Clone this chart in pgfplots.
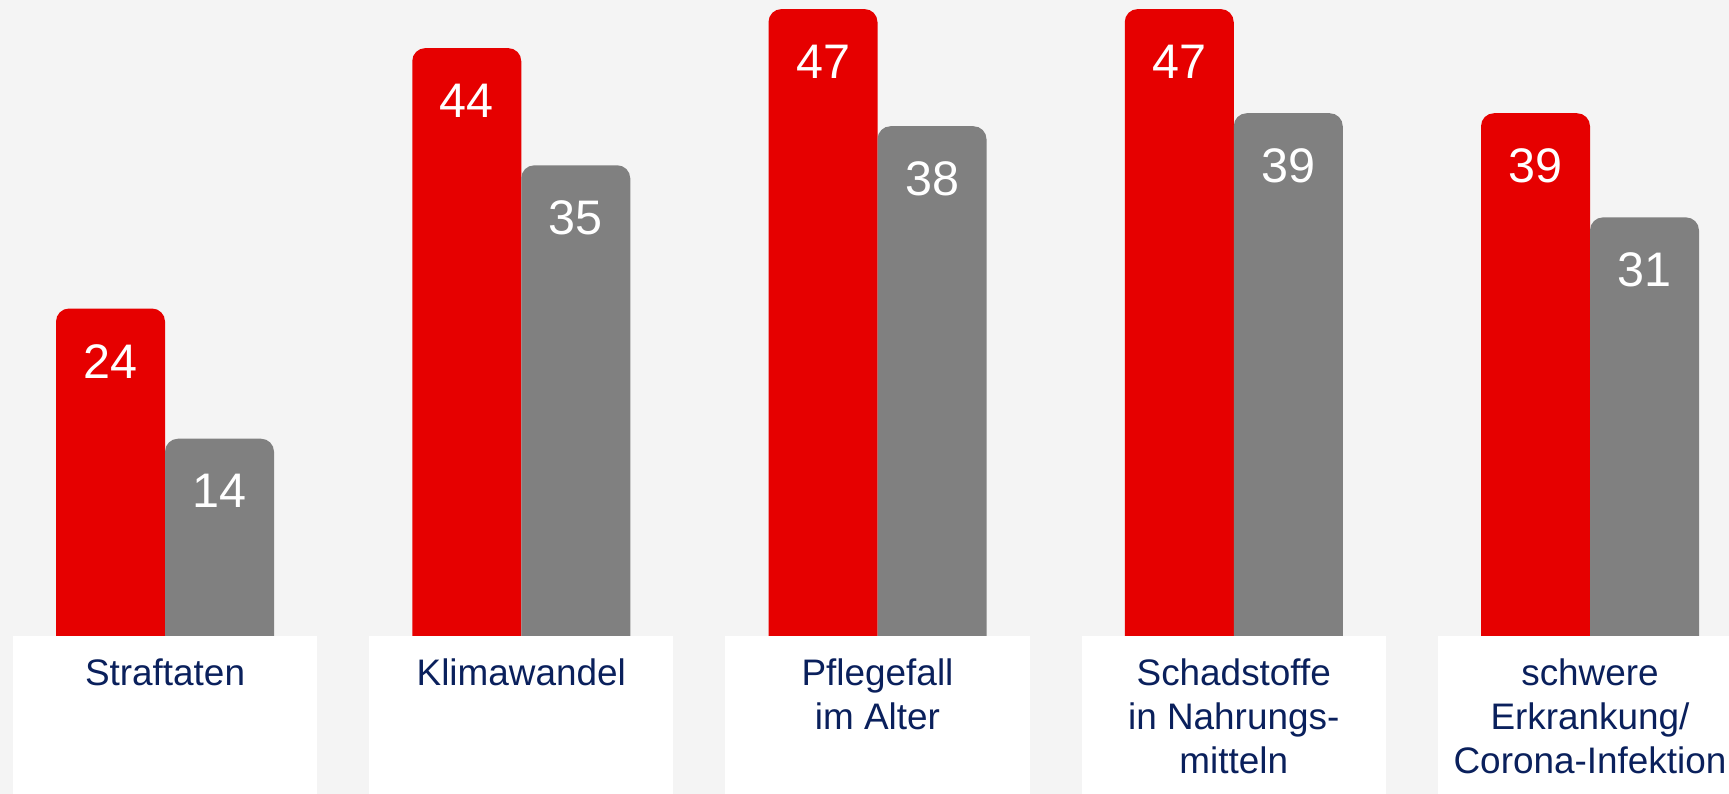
\documentclass[border=0pt]{standalone}
\usepackage{fontspec}
\setmainfont{Liberation Sans}
\usepackage{pgfplots}
\pgfplotsset{compat=1.18}
\definecolor{barred}{RGB}{230,0,0}
\definecolor{bargray}{RGB}{128,128,128}
\definecolor{bgpanel}{RGB}{244,244,244}
\definecolor{navy}{RGB}{10,32,92}

\pgfplotsset{
  frame/.style={
    scale only axis,
    width=172.9mm, height=79.4mm,
    xmin=-0.4632, xmax=4.3902,
    ymin=-13.287, ymax=47.696,
    axis line style={draw=none},
    ytick=\empty,
    xtick={0,1,2,3,4},
    major tick length=0pt,
  },
}

\begin{document}
\begin{tikzpicture}
\begin{axis}[
  frame,
  % bars start a bit below the label boxes, so their bottoms are hidden
  y coord trafo/.code={\pgfmathparse{#1+3}},
  y coord inv trafo/.code={\pgfmathparse{#1-3}},
  axis background/.style={fill=bgpanel},
  xticklabels={},
  ybar=0pt,
  bar width=10.9mm,
  point meta=rawy,
  /pgf/number format/assume math mode=true,
  nodes near coords,
  nodes near coords style={anchor=north, yshift=-3.5mm, inner sep=0pt,
    text=white, font=\fontsize{13.8}{16}\selectfont},
  clip=false,
]
\addplot[draw=none, fill=barred, rounded corners=1.3mm] coordinates {
  (0,24) (1,44) (2,47) (3,47) (4,39)
};
\addplot[draw=none, fill=bargray, rounded corners=1.3mm] coordinates {
  (0,14) (1,35) (2,38) (3,39) (4,31)
};
% white label boxes
\fill[white] (axis cs:-0.4267,-13.287) rectangle (axis cs:0.4267,-1.152);
\fill[white] (axis cs:0.5733,-13.287) rectangle (axis cs:1.4267,-1.152);
\fill[white] (axis cs:1.5733,-13.287) rectangle (axis cs:2.4267,-1.152);
\fill[white] (axis cs:2.5733,-13.287) rectangle (axis cs:3.4267,-1.152);
\fill[white] (axis cs:3.5733,-13.287) rectangle (axis cs:4.3902,-1.152);
\end{axis}
% second axis on top, only for the category labels
\begin{axis}[
  frame,
  name=ax,
  xticklabels={Straftaten, Klimawandel, {Pflegefall\\im Alter}, {Schadstoffe\\in Nahrungs-\\mitteln}, {schwere\\Erkrankung/\\Corona-Infektion}},
  xticklabel style={anchor=north, yshift=13.6mm, inner sep=0pt, align=center,
    font=\fontsize{10.5}{12.5}\selectfont, text=navy},
]
\end{axis}
\pgfresetboundingbox
\path[use as bounding box] (ax.south west) rectangle (ax.north east);
\end{tikzpicture}
\end{document}
